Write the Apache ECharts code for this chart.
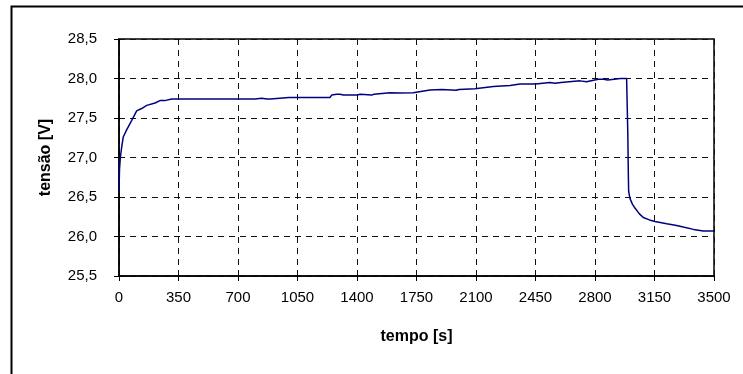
<!DOCTYPE html>
<html>
<head>
<meta charset="utf-8">
<script src="https://cdn.jsdelivr.net/npm/echarts@6/dist/echarts.min.js"></script>
<style>
html,body{margin:0;padding:0;background:#fff;}
#chart{width:743px;height:374px;}
</style>
</head>
<body>
<div id="chart"></div>
<script>
const times = [0, 3, 8, 15, 25, 45, 75, 104, 133, 163, 212, 241, 270, 310, 400, 500, 600, 690, 700, 710, 800, 840, 850, 870, 880, 891, 900, 1000, 1050, 1100, 1241, 1251, 1280, 1290, 1300, 1320, 1400, 1408, 1420, 1486, 1500, 1594, 1650, 1660, 1731, 1740, 1829, 1900, 1982, 2000, 2094, 2100, 2202, 2210, 2300, 2359, 2450, 2535, 2565, 2600, 2712, 2750, 2760, 2819, 2850, 2875, 2885, 2950, 2986, 2990, 2993, 2996, 2998, 3006, 3020, 3035, 3060, 3084, 3120, 3153, 3222, 3280, 3319, 3380, 3437, 3500];
const voltage = [26.58, 26.85, 27.00, 27.12, 27.26, 27.35, 27.47, 27.59, 27.62, 27.66, 27.69, 27.72, 27.72, 27.74, 27.74, 27.74, 27.74, 27.74, 27.72, 27.74, 27.74, 27.75, 27.76, 27.74, 27.75, 27.74, 27.75, 27.76, 27.76, 27.76, 27.76, 27.79, 27.80, 27.79, 27.80, 27.79, 27.79, 27.78, 27.80, 27.79, 27.80, 27.82, 27.815, 27.81, 27.82, 27.83, 27.855, 27.86, 27.85, 27.86, 27.87, 27.88, 27.90, 27.91, 27.91, 27.93, 27.93, 27.95, 27.94, 27.95, 27.97, 27.96, 27.97, 27.99, 27.99, 27.98, 27.99, 28.00, 28.00, 28.00, 27.30, 26.80, 26.57, 26.48, 26.41, 26.36, 26.29, 26.24, 26.21, 26.19, 26.16, 26.14, 26.12, 26.09, 26.07, 26.07];
const xTicks = [0, 350, 700, 1050, 1400, 1750, 2100, 2450, 2800, 3150, 3500];
const yTicks = [25.5, 26.0, 26.5, 27.0, 27.5, 28.0, 28.5];

const font = "'Liberation Sans', Arial, sans-serif";
const chart = echarts.init(document.getElementById('chart'));
chart.setOption({
  animation: false,
  graphic: [{
    type: 'rect', shape: {x: 11.5, y: 6.5, width: 900, height: 600},
    style: {fill: 'none', stroke: '#000', lineWidth: 2}, silent: true
  }],
  grid: {left: 119, top: 39, right: 29, bottom: 98, show: true, borderColor: '#000', borderWidth: 1.5, backgroundColor: '#fff'},
  xAxis: {
    type: 'value', min: xTicks[0], max: xTicks[xTicks.length - 1], interval: 350,
    name: 'tempo [s]', nameLocation: 'middle', nameGap: 53,
    nameTextStyle: {fontFamily: font, fontSize: 16, fontWeight: 'bold', color: '#000'},
    axisLine: {lineStyle: {color: '#000', width: 1.5}},
    axisTick: {show: true, length: 5, lineStyle: {color: '#000'}},
    axisLabel: {fontFamily: font, fontSize: 15, color: '#000', margin: 14,
      formatter: v => String(v)},
    splitLine: {show: true, lineStyle: {color: '#111', type: [6, 5], width: 1}}
  },
  yAxis: {
    type: 'value', min: yTicks[0], max: yTicks[yTicks.length - 1], interval: 0.5,
    name: 'tensão [V]', nameLocation: 'middle', nameGap: 65,
    nameTextStyle: {fontFamily: font, fontSize: 16, fontWeight: 'bold', color: '#000'},
    axisLine: {show: true, lineStyle: {color: '#000', width: 1.5}},
    axisTick: {show: true, length: 5, lineStyle: {color: '#000'}},
    axisLabel: {fontFamily: font, fontSize: 15, color: '#000', margin: 22,
      formatter: v => v.toFixed(1).replace('.', ',')},
    splitLine: {show: true, lineStyle: {color: '#111', type: [6, 5], width: 1}}
  },
  series: [{
    type: 'line', showSymbol: false, symbol: 'none',
    data: times.map((t, i) => [t, voltage[i]]),
    lineStyle: {color: '#000080', width: 1.5}
  }]
});
</script>
</body>
</html>
